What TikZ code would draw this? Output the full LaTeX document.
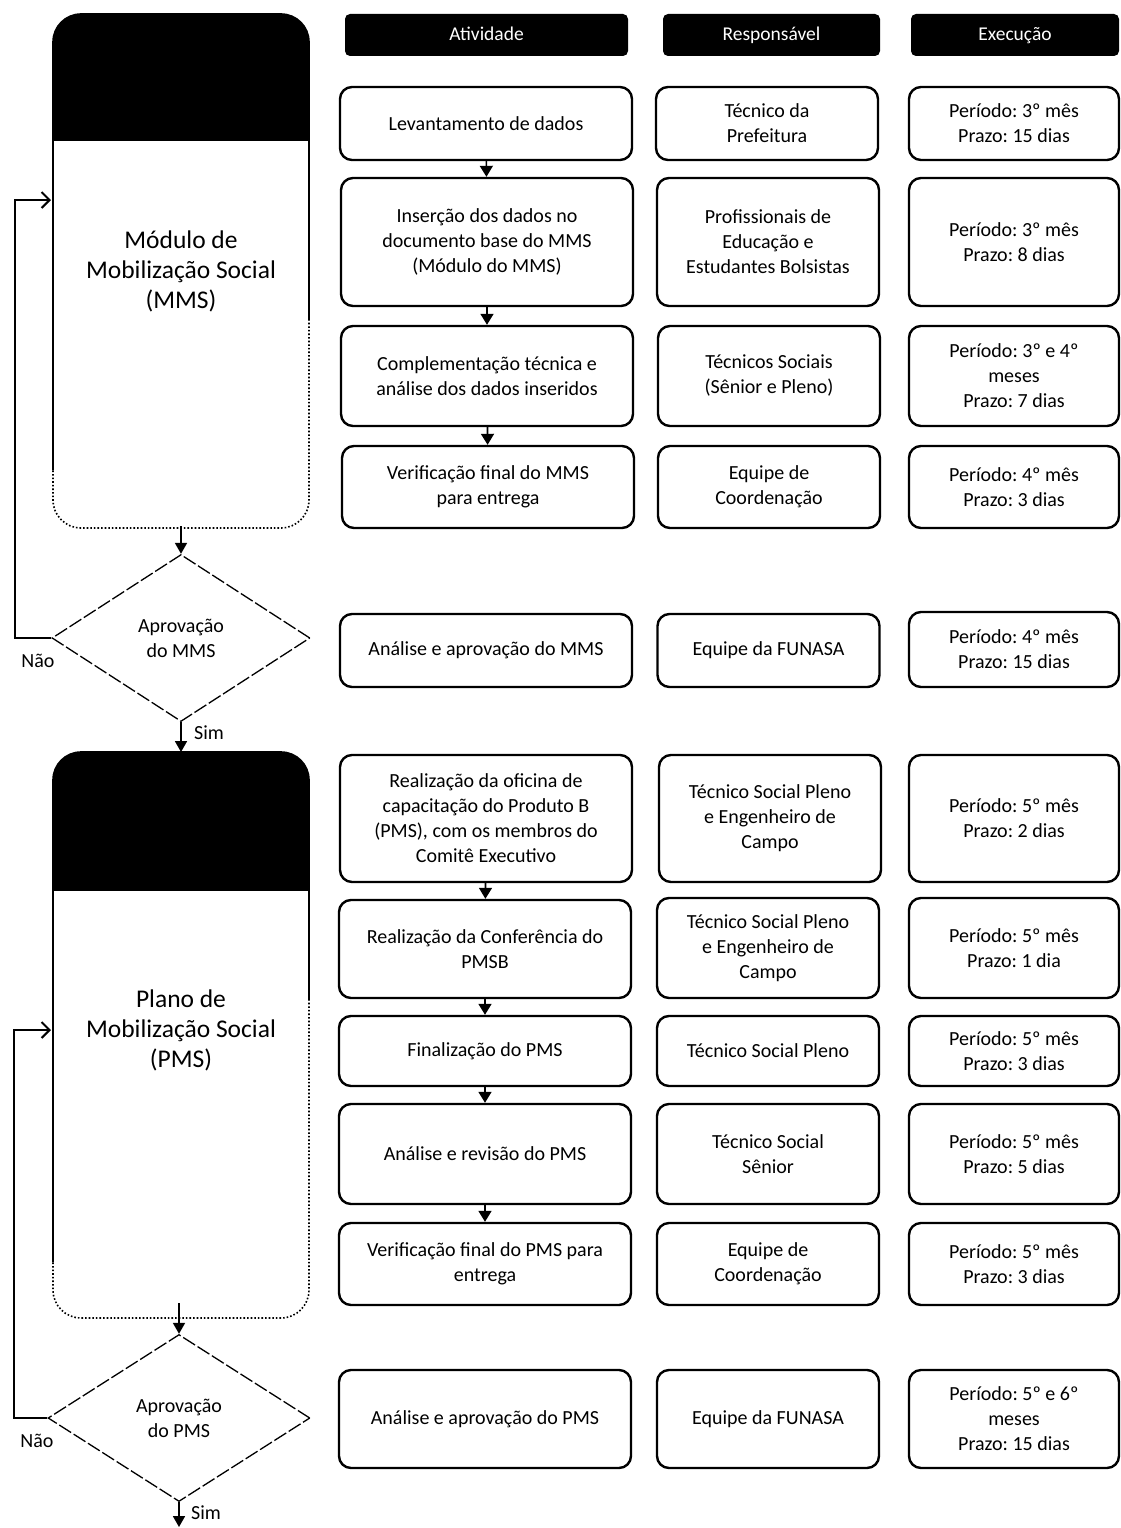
\documentclass[tikz,border=0pt]{standalone}
\usepackage{fontspec}
\setmainfont{Carlito}
\usetikzlibrary{shapes.geometric,arrows.meta}
\frenchspacing
\begin{document}
\begin{tikzpicture}[x=1pt,y=-1pt,
  box/.style={draw, line width=2.4pt, rounded corners=12pt, align=center, inner sep=2pt,
    font=\fontsize{20}{25}\selectfont},
  colA/.style={minimum width=292pt},
  colR/.style={minimum width=222pt},
  colE/.style={minimum width=210pt},
  ht/.style={minimum height=#1pt},
  hdr/.style={fill=black, text=white, rounded corners=5pt, minimum height=42pt, inner sep=0pt,
    text height=14pt, text depth=2pt, font=\fontsize{19.5}{23}\selectfont},
  flow/.style={line width=1.6pt, -{Triangle[width=13pt,length=11pt]}},
  dn/.style={line width=1.8pt, -{Triangle[width=12pt,length=11pt]}},
  back/.style={line width=2pt, -{Straight Barb[length=8pt,width=16pt]}},
  dec/.style={draw, diamond, aspect=1.55, inner sep=0pt, line width=1.3pt,
    dash pattern=on 14pt off 3pt, align=center, font=\fontsize{20}{25}\selectfont},
  lbl/.style={font=\fontsize{20}{25}\selectfont, inner sep=0pt},
  big/.style={font=\fontsize{25.5}{30}\selectfont, align=center},
  pline/.style={line width=1.6pt, rounded corners=28pt}
]
\useasboundingbox (0,0) rectangle (1121,1528);

% ---------- headers
\node[hdr, minimum width=283pt] (h1) at (486.5,35) {Atividade};
\node[hdr, minimum width=217pt] (h2) at (771.5,35) {Responsável};
\node[hdr, minimum width=208pt] (h3) at (1015,35) {Execução};

% ---------- left panel 1
\begin{scope}
  \clip (40,0) rectangle (320,140);
  \fill[rounded corners=28pt] (53,14) rectangle (309,400);
\end{scope}
\begin{scope}
  \clip (40,0) -- (320,0) -- (320,320) -- (181,320) -- (181,470) -- (40,470) -- cycle;
  \draw[pline] (53,14) rectangle (309,528);
\end{scope}
\begin{scope}
  \clip (181,320) -- (320,320) -- (320,545) -- (40,545) -- (40,470) -- (181,470) -- cycle;
  \draw[pline, dotted] (53,14) rectangle (309,528);
\end{scope}
\node[big] (p1) at (181,271) {Módulo de\\Mobilização Social\\(MMS)};
\coordinate (p1in) at (51,200);
\coordinate (p1bot) at (181,526);
\coordinate (p2top) at (181,752);

% ---------- left panel 2
\begin{scope}
  \clip (40,740) rectangle (320,890);
  \fill[rounded corners=28pt] (53,752) rectangle (309,1100);
\end{scope}
\begin{scope}
  \clip (40,740) -- (320,740) -- (320,1000) -- (181,1000) -- (181,1262) -- (40,1262) -- cycle;
  \draw[pline] (53,752) rectangle (309,1318);
\end{scope}
\begin{scope}
  \clip (181,1000) -- (320,1000) -- (320,1330) -- (40,1330) -- (40,1262) -- (181,1262) -- cycle;
  \draw[pline, dotted] (53,752) rectangle (309,1318);
\end{scope}
\node[big] (p2) at (181,1030) {Plano de\\Mobilização Social\\(PMS)};
\coordinate (p2in) at (51,1030);
\coordinate (p2bot) at (179,1303);
\coordinate (endS) at (179,1527);

% ---------- decisions
\node[dec, minimum width=258pt, minimum height=167pt] (d1) at (181,638) {Aprovação\\do MMS};
\node[dec, minimum width=262pt, minimum height=167pt] (d2) at (179,1418) {Aprovação\\do PMS};
\node[lbl] (n1) at (38,661) {Não};
\node[lbl] (s1) at (209,733) {Sim};
\node[lbl] (n2) at (37,1441) {Não};
\node[lbl] (s2) at (206,1513) {Sim};
\coordinate (l1) at (15,638);
\coordinate (l2) at (14,1418);

\draw[dn] (p1bot) -- (d1.north);
\draw[dn] (d1.south) -- (p2top);
\draw[back] (d1.west) -- (l1) |- (p1in);
\draw[dn] (p2bot) -- (d2.north);
\draw[dn] (d2.south) -- (endS);
\draw[back] (d2.west) -- (l2) |- (p2in);

% ---------- activity column
\node[box, colA, ht=73]  (a1)  at (486,123.5) {Levantamento de dados};
\node[box, colA, ht=128] (a2)  at (487,242)   {Inserção dos dados no\\documento base do MMS\\(Módulo do MMS)};
\node[box, colA, ht=100] (a3)  at (487,376)   {Complementação técnica e\\análise dos dados inseridos};
\node[box, colA, ht=82]  (a4)  at (488,487)   {Verificação final do MMS\\para entrega};
\node[box, colA, ht=73]  (a5)  at (486,650.5) {Análise e aprovação do MMS};
\node[box, colA, ht=127] (a6)  at (486,818.5) {Realização da oficina de\\capacitação do Produto B\\(PMS), com os membros do\\Comitê Executivo};
\node[box, colA, ht=98]  (a7)  at (485,949)   {Realização da Conferência do\\PMSB};
\node[box, colA, ht=70]  (a8)  at (485,1051)  {Finalização do PMS};
\node[box, colA, ht=100] (a9)  at (485,1154)  {Análise e revisão do PMS};
\node[box, colA, ht=82]  (a10) at (485,1264)  {Verificação final do PMS para\\entrega};
\node[box, colA, ht=98]  (a11) at (485,1419)  {Análise e aprovação do PMS};

\draw[flow] (a1) -- (a2);
\draw[flow] (a2) -- (a3);
\draw[flow] (a3) -- (a4);
\draw[flow] (a6) -- (a7);
\draw[flow] (a7) -- (a8);
\draw[flow] (a8) -- (a9);
\draw[flow] (a9) -- (a10);

% ---------- responsible column
\node[box, colR, ht=73]  (r1)  at (767,123.5) {Técnico da\\Prefeitura};
\node[box, colR, ht=128] (r2)  at (768,242)   {Profissionais de\\Educação e\\Estudantes Bolsistas};
\node[box, colR, ht=100] (r3)  at (769,376)   {Técnicos Sociais\\(Sênior e Pleno)};
\node[box, colR, ht=82]  (r4)  at (769,487)   {Equipe de\\Coordenação};
\node[box, colR, ht=73]  (r5)  at (768.5,650.5) {Equipe da FUNASA};
\node[box, colR, ht=127] (r6)  at (770,818.5) {Técnico Social Pleno\\e Engenheiro de\\Campo};
\node[box, colR, ht=100] (r7)  at (768,948)   {Técnico Social Pleno\\e Engenheiro de\\Campo};
\node[box, colR, ht=70]  (r8)  at (768,1051)  {Técnico Social Pleno};
\node[box, colR, ht=100] (r9)  at (768,1154)  {Técnico Social\\Sênior};
\node[box, colR, ht=82]  (r10) at (768,1264)  {Equipe de\\Coordenação};
\node[box, colR, ht=98]  (r11) at (768,1419)  {Equipe da FUNASA};

% ---------- execution column
\node[box, colE, ht=73]  (e1)  at (1014,123.5) {Período: 3º mês\\Prazo: 15 dias};
\node[box, colE, ht=128] (e2)  at (1014,242)   {Período: 3º mês\\Prazo: 8 dias};
\node[box, colE, ht=100] (e3)  at (1014,376)   {Período: 3º e 4º\\meses\\Prazo: 7 dias};
\node[box, colE, ht=82]  (e4)  at (1014,487)   {Período: 4º mês\\Prazo: 3 dias};
\node[box, colE, ht=75]  (e5)  at (1014,649.5) {Período: 4º mês\\Prazo: 15 dias};
\node[box, colE, ht=127] (e6)  at (1014,818.5) {Período: 5º mês\\Prazo: 2 dias};
\node[box, colE, ht=100] (e7)  at (1014,948)   {Período: 5º mês\\Prazo: 1 dia};
\node[box, colE, ht=70]  (e8)  at (1014,1051)  {Período: 5º mês\\Prazo: 3 dias};
\node[box, colE, ht=100] (e9)  at (1014,1154)  {Período: 5º mês\\Prazo: 5 dias};
\node[box, colE, ht=82]  (e10) at (1014,1264)  {Período: 5º mês\\Prazo: 3 dias};
\node[box, colE, ht=98]  (e11) at (1014,1419)  {Período: 5º e 6º\\meses\\Prazo: 15 dias};
\end{tikzpicture}
\end{document}
